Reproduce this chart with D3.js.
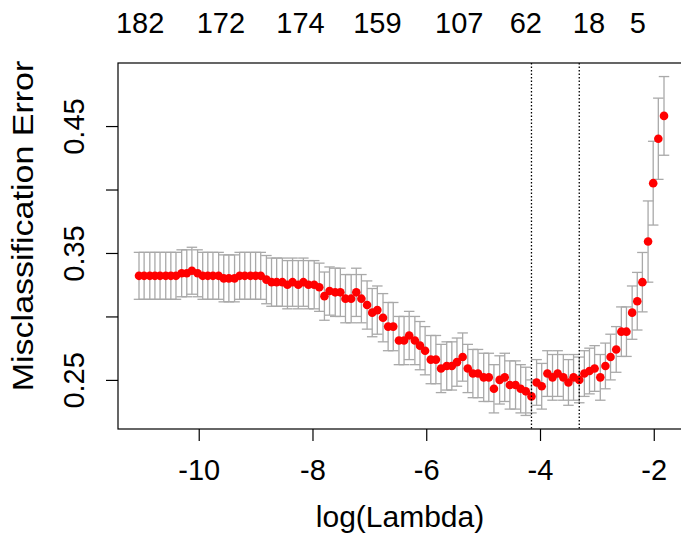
<!DOCTYPE html>
<html>
<head>
<meta charset="utf-8">
<script src="https://cdn.jsdelivr.net/npm/d3@7"></script>
<style>
  body { margin: 0; background: #fff; }
  svg text { font-family: "Liberation Sans", Arial, Helvetica, sans-serif; fill: #000; }
</style>
</head>
<body>
<div id="cv-plot"></div>
<script>
// log(lambda) path, from smallest to largest lambda
const logLambda = [
  -11.05, -10.96, -10.86, -10.77, -10.68, -10.58, -10.49, -10.40, -10.30, -10.21,
  -10.12, -10.02, -9.93, -9.84, -9.75, -9.65, -9.56, -9.47, -9.37, -9.28,
  -9.19, -9.09, -9.00, -8.91, -8.81, -8.72, -8.63, -8.53, -8.44, -8.35,
  -8.25, -8.16, -8.07, -7.97, -7.88, -7.79, -7.70, -7.60, -7.51, -7.42,
  -7.32, -7.23, -7.14, -7.04, -6.95, -6.86, -6.76, -6.67, -6.58, -6.48,
  -6.39, -6.30, -6.20, -6.11, -6.02, -5.92, -5.83, -5.74, -5.64, -5.55,
  -5.46, -5.36, -5.27, -5.18, -5.09, -4.99, -4.90, -4.81, -4.71, -4.62,
  -4.53, -4.43, -4.34, -4.25, -4.15, -4.06, -3.97, -3.87, -3.78, -3.69,
  -3.59, -3.50, -3.41, -3.31, -3.22, -3.13, -3.04, -2.94, -2.85, -2.76,
  -2.66, -2.57, -2.48, -2.38, -2.29, -2.20, -2.10, -2.01, -1.92, -1.82
];

// mean cross-validated misclassification error
const cvm = [
  0.332, 0.332, 0.332, 0.332, 0.332, 0.332, 0.332, 0.332, 0.334, 0.334,
  0.336, 0.334, 0.332, 0.332, 0.332, 0.332, 0.330, 0.330, 0.330, 0.332,
  0.332, 0.332, 0.332, 0.332, 0.329, 0.327, 0.327, 0.327, 0.325, 0.327,
  0.325, 0.327, 0.325, 0.325, 0.323, 0.316, 0.320, 0.319, 0.319, 0.314,
  0.314, 0.319, 0.314, 0.309, 0.303, 0.305, 0.299, 0.292, 0.292, 0.281,
  0.281, 0.285, 0.281, 0.277, 0.273, 0.266, 0.266, 0.259, 0.261, 0.261,
  0.264, 0.268, 0.259, 0.255, 0.255, 0.252, 0.252, 0.243, 0.250, 0.252,
  0.246, 0.246, 0.243, 0.241, 0.237, 0.248, 0.245, 0.255, 0.252, 0.255,
  0.252, 0.248, 0.252, 0.250, 0.255, 0.257, 0.259, 0.252, 0.261, 0.268,
  0.274, 0.288, 0.288, 0.303, 0.312, 0.327, 0.359, 0.405, 0.440, 0.458
];

// standard error of the cv error
const cvsd = [
  0.0185, 0.0185, 0.0185, 0.0185, 0.0185, 0.0185, 0.0185, 0.0185, 0.0185, 0.0185,
  0.0185, 0.0185, 0.0185, 0.0185, 0.0185, 0.0185, 0.0185, 0.0185, 0.0185, 0.0185,
  0.0185, 0.0185, 0.0185, 0.0185, 0.019, 0.019, 0.019, 0.019, 0.019, 0.019,
  0.019, 0.019, 0.019, 0.019, 0.019, 0.019, 0.019, 0.019, 0.019, 0.019,
  0.019, 0.019, 0.019, 0.019, 0.019, 0.019, 0.019, 0.019, 0.019, 0.019,
  0.019, 0.019, 0.019, 0.019, 0.019, 0.019, 0.019, 0.019, 0.019, 0.019,
  0.019, 0.019, 0.019, 0.019, 0.019, 0.019, 0.019, 0.019, 0.019, 0.019,
  0.019, 0.019, 0.019, 0.019, 0.013, 0.018, 0.018, 0.018, 0.018, 0.018,
  0.018, 0.018, 0.018, 0.018, 0.018, 0.018, 0.018, 0.018, 0.018, 0.018,
  0.018, 0.0195, 0.0195, 0.021, 0.0227, 0.0234, 0.032, 0.033, 0.032, 0.031
];

// number of nonzero coefficients shown on the top axis
const topAt = [-11.03, -9.61, -8.21, -6.86, -5.42, -4.25, -3.14, -2.28];
const topLabels = ["182", "172", "174", "159", "107", "62", "18", "5"];

const xTicks = [-10, -8, -6, -4, -2];
const yTicks = [0.25, 0.30, 0.35, 0.40, 0.45];
const yTickLabels = ["0.25", "", "0.35", "", "0.45"];

const lambdaMin = -4.15,
      lambda1se = -3.31;

// Set SVG parameters
const width = 681,
      height = 540;
const margin = {top: 63, left: 118, bottom: 111, right: -4};
const tickFont = 29,
      titleFont = 30;

const svg = d3.select("#cv-plot")
  .append("svg")
    .attr("width", width)
    .attr("height", height);

const points = logLambda.map((d, i) => ({
  x: d,
  y: cvm[i],
  upper: cvm[i] + cvsd[i],
  lower: cvm[i] - cvsd[i]
}));

// R style limits: data range stretched by 4%
const xExt = d3.extent(logLambda);
const xPad = (xExt[1] - xExt[0]) * 0.04;
const yExt = [d3.min(points, d => d.lower), d3.max(points, d => d.upper)];
const yPad = (yExt[1] - yExt[0]) * 0.04;

const x = d3.scaleLinear()
  .domain([xExt[0] - xPad, xExt[1] + xPad])
  .range([margin.left, width - margin.right]);

const y = d3.scaleLinear()
  .domain([yExt[0] - yPad, yExt[1] + yPad])
  .range([height - margin.bottom, margin.top]);

// Error bars
const capW = (xExt[1] - xExt[0]) * 0.01;
const bars = svg.append("g")
  .attr("stroke", "#a9a9a9")
  .attr("stroke-width", 1.3);

bars.selectAll(".stem")
  .data(points)
  .join("line")
    .attr("class", "stem")
    .attr("x1", d => x(d.x))
    .attr("x2", d => x(d.x))
    .attr("y1", d => y(d.upper))
    .attr("y2", d => y(d.lower));

bars.selectAll(".cap-up")
  .data(points)
  .join("line")
    .attr("class", "cap-up")
    .attr("x1", d => x(d.x - capW))
    .attr("x2", d => x(d.x + capW))
    .attr("y1", d => y(d.upper))
    .attr("y2", d => y(d.upper));

bars.selectAll(".cap-low")
  .data(points)
  .join("line")
    .attr("class", "cap-low")
    .attr("x1", d => x(d.x - capW))
    .attr("x2", d => x(d.x + capW))
    .attr("y1", d => y(d.lower))
    .attr("y2", d => y(d.lower));

// Points
svg.append("g")
  .selectAll("circle")
  .data(points)
  .join("circle")
    .attr("cx", d => x(d.x))
    .attr("cy", d => y(d.y))
    .attr("r", 4.3)
    .attr("fill", "#ff0000");

// lambda.min and lambda.1se
svg.append("g")
  .selectAll("line")
  .data([lambdaMin, lambda1se])
  .join("line")
    .attr("x1", d => x(d))
    .attr("x2", d => x(d))
    .attr("y1", margin.top)
    .attr("y2", height - margin.bottom)
    .attr("stroke", "#000")
    .attr("stroke-width", 1.3)
    .attr("stroke-dasharray", "1.5,2");

// Box
svg.append("rect")
  .attr("x", margin.left)
  .attr("y", margin.top)
  .attr("width", width - margin.right - margin.left)
  .attr("height", height - margin.bottom - margin.top)
  .attr("fill", "none")
  .attr("stroke", "#000")
  .attr("stroke-width", 1.2);

// Bottom axis
const xAxis = svg.append("g")
  .attr("transform", `translate(0,${height - margin.bottom})`)
  .call(d3.axisBottom(x).tickValues(xTicks).tickSize(12).tickFormat(d => d));
xAxis.select(".domain").remove();
xAxis.selectAll("line").attr("stroke", "#000").attr("stroke-width", 1.2);
xAxis.selectAll("text")
  .attr("y", 51)
  .attr("dy", 0)
  .attr("font-size", tickFont);

// Left axis
const yAxis = svg.append("g")
  .attr("transform", `translate(${margin.left},0)`)
  .call(d3.axisLeft(y).tickValues(yTicks).tickSize(12).tickFormat((d, i) => yTickLabels[i]));
yAxis.select(".domain").remove();
yAxis.selectAll("line").attr("stroke", "#000").attr("stroke-width", 1.2);
yAxis.selectAll("text")
  .attr("transform", "rotate(-90)")
  .attr("x", 0)
  .attr("y", -34)
  .attr("dy", 0)
  .attr("text-anchor", "middle")
  .attr("font-size", tickFont);

// Top axis labels, no ticks
svg.append("g")
  .selectAll("text")
  .data(topAt)
  .join("text")
    .attr("x", d => x(d))
    .attr("y", 33)
    .attr("text-anchor", "middle")
    .attr("font-size", tickFont)
    .text((d, i) => topLabels[i]);

// Axis titles
svg.append("text")
  .attr("x", 400)
  .attr("y", 527)
  .attr("text-anchor", "middle")
  .attr("font-size", titleFont)
  .text("log(Lambda)");

svg.append("text")
  .attr("transform", "translate(33,226) scale(0.88,1) rotate(-90)")
  .attr("text-anchor", "middle")
  .attr("font-size", 34)
  .text("Misclassification Error");
</script>
</body>
</html>
